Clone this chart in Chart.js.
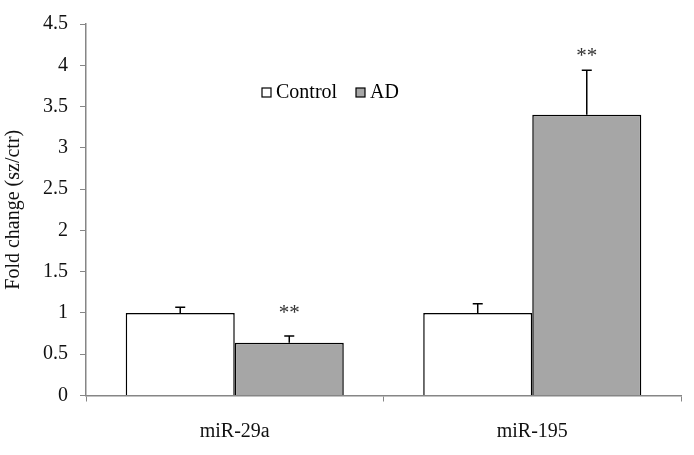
<!DOCTYPE html>
<html>
<head>
<meta charset="utf-8">
<script src="https://cdn.jsdelivr.net/npm/chart.js@4"></script>
<style>
html,body{margin:0;padding:0;background:#fff;}
#wrap{width:694px;height:455px;}
</style>
</head>
<body>
<div id="wrap"><canvas id="c" width="694" height="455"></canvas></div>
<script>
const categories = ["miR-29a", "miR-195"];
const controlValues = [1.0, 1.0];
const controlErrors = [0.07, 0.11];
const adValues = [0.64, 3.4];
const adErrors = [0.08, 0.54];
const adStars = ["**", "**"];
const adStarY = [1.04, 4.16];
const yTicks = [0, 0.5, 1, 1.5, 2, 2.5, 3, 3.5, 4, 4.5];

const FONT = "'Liberation Serif', 'Times New Roman', serif";
const AXIS = "#868686";

const errorPlugin = {
  id: 'errs',
  afterDatasetsDraw(chart) {
    const ctx = chart.ctx;
    const y = chart.scales.y;
    const errs = [controlErrors, adErrors];
    ctx.save();
    ctx.strokeStyle = '#000';
    ctx.lineWidth = 1.5;
    chart.data.datasets.forEach((ds, di) => {
      const meta = chart.getDatasetMeta(di);
      meta.data.forEach((bar, i) => {
        const v = ds.data[i];
        const top = y.getPixelForValue(v + errs[di][i]);
        const base = y.getPixelForValue(v);
        ctx.beginPath();
        ctx.moveTo(bar.x, base);
        ctx.lineTo(bar.x, top);
        ctx.moveTo(bar.x - 5, top);
        ctx.lineTo(bar.x + 5, top);
        ctx.stroke();
      });
    });
    // stars
    const meta = chart.getDatasetMeta(1);
    ctx.fillStyle = '#333';
    ctx.font = "21px " + FONT;
    ctx.textAlign = 'center';
    ctx.textBaseline = 'middle';
    meta.data.forEach((bar, i) => {
      ctx.fillText(adStars[i], bar.x, y.getPixelForValue(adStarY[i]) + 4);
    });
    // legend
    const items = [{t: 'Control', c: '#ffffff', x: 262}, {t: 'AD', c: '#a6a6a6', x: 356}];
    ctx.font = "20px " + FONT;
    ctx.textAlign = 'left';
    items.forEach(it => {
      ctx.fillStyle = it.c;
      ctx.fillRect(it.x, 88, 9, 9);
      ctx.strokeStyle = '#000';
      ctx.lineWidth = 1.2;
      ctx.strokeRect(it.x, 88, 9, 9);
      ctx.fillStyle = '#000';
      ctx.fillText(it.t, it.x + 14, 93);
    });
    ctx.restore();
  }
};

new Chart(document.getElementById('c'), {
  type: 'bar',
  data: {
    labels: categories,
    datasets: [
      {label: 'Control', data: controlValues, backgroundColor: '#ffffff', borderColor: '#000', borderWidth: 1.5},
      {label: 'AD', data: adValues, backgroundColor: '#a6a6a6', borderColor: '#000', borderWidth: 1.5}
    ]
  },
  options: {
    responsive: false,
    animation: false,
    devicePixelRatio: 1,
    categoryPercentage: 0.733,
    barPercentage: 1.0,
    layout: {padding: {left: 0, right: 13, top: 24, bottom: 0}},
    plugins: {legend: {display: false}, tooltip: {enabled: false}},
    scales: {
      x: {
        afterFit(s) { s.height = 59.5; },
        grid: {display: true, drawOnChartArea: false, drawTicks: true, tickLength: 6, color: AXIS, offset: true},
        border: {display: true, color: AXIS, width: 1.5},
        ticks: {font: {family: FONT, size: 20}, color: '#111', padding: 18}
      },
      y: {
        min: 0, max: 4.5,
        afterFit(s) { s.width = 86; },
        afterBuildTicks(s) { s.ticks = yTicks.map(v => ({value: v})); },
        grid: {display: true, drawOnChartArea: false, drawTicks: true, tickLength: 6, color: AXIS},
        border: {display: true, color: AXIS, width: 1.5},
        ticks: {font: {family: FONT, size: 20}, color: '#111', padding: 12, callback: v => String(v)},
        title: {display: true, text: 'Fold change (sz/ctr)', font: {family: FONT, size: 20}, color: '#111', padding: {top: 2, bottom: 0}}
      }
    }
  },
  plugins: [errorPlugin]
});
</script>
</body>
</html>
